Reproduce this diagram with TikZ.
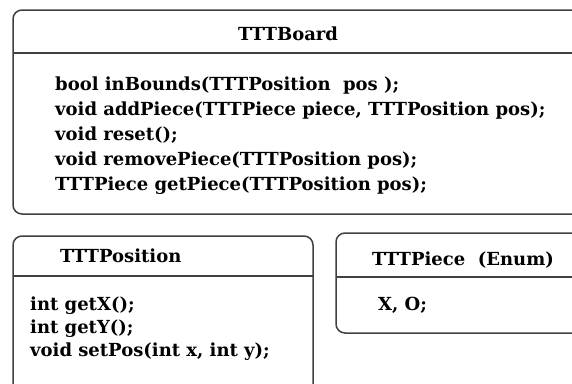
\documentclass[tikz,border=0pt]{standalone}
\usepackage{fontspec}
\setmainfont{DejaVu Serif}

\begin{document}
\begin{tikzpicture}[
x=1pt, y=-1pt,
   box/.style = {draw=black!75, line width=1.5pt, rounded corners=9pt},
   bar/.style = {draw=black!75, line width=1.5pt},
 title/.style = {anchor=base west, inner sep=0pt,
                 font=\bfseries\fontsize{18}{22}\selectfont},
member/.style = {anchor=base west, inner sep=0pt,
                 font=\bfseries\fontsize{18}{22}\selectfont},
                        ]
\useasboundingbox (0,0) rectangle (572,383);
\clip (0,0) rectangle (572,383);
% TTTBoard
\draw[box] (13,10) rectangle (600,214);
\draw[bar] (13,53) -- (600,53);
\node[title] (board) at (238,40) {TTTBoard};
\foreach \txt [count=\i] in {{bool inBounds(TTTPosition\ \ pos );},
    {void addPiece(TTTPiece piece, TTTPosition pos);},
    {void reset();},
    {void removePiece(TTTPosition pos);},
    {TTTPiece getPiece(TTTPosition pos);}}
    \node[member] (board-\i) at (55,66+24.8*\i) {\txt};
% TTTPosition
\draw[box] (13,236) rectangle (313,420);
\draw[bar] (13,276) -- (313,276);
\node[title] (position) at (60,262) {TTTPosition};
\foreach \txt [count=\i] in {{int getX();},
    {int getY();},
    {void setPos(int x, int y);}}
    \node[member] (position-\i) at (30,287+23*\i) {\txt};
% TTTPiece
\draw[box] (336,233) rectangle (600,333);
\draw[bar] (336,277) -- (600,277);
\node[title] (piece) at (372,265) {TTTPiece\ \ (Enum)};
\node[member] (piece-1) at (378,310) {X, O;};
\end{tikzpicture}
\end{document}
